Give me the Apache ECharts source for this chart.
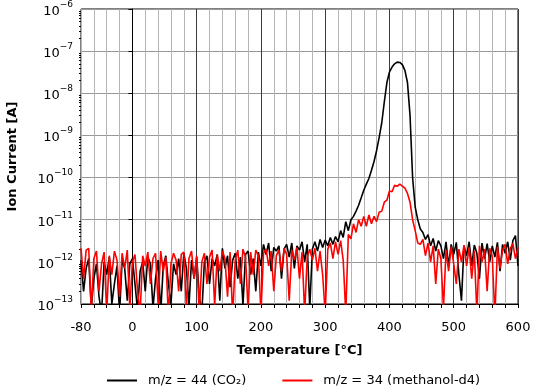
<!DOCTYPE html>
<html>
<head>
<meta charset="utf-8">
<script src="https://cdn.jsdelivr.net/npm/echarts@6/dist/echarts.min.js"></script>
<style>
  html, body { margin: 0; padding: 0; background: #fff; }
  #chart { width: 533px; height: 387px; }
</style>
</head>
<body>
<div id="chart"></div>
<script>
  // temperature grid, °C
  const temperatures = [
    -80, -76, -72, -68, -64, -60, -56, -52, -48, -44,
    -40, -36, -32, -28, -24, -20, -16, -12, -8, -4,
    0, 4, 8, 12, 16, 20, 24, 28, 32, 36,
    40, 44, 48, 52, 56, 60, 64, 68, 72, 76,
    80, 84, 88, 92, 96, 100, 104, 108, 112, 116,
    120, 124, 128, 132, 136, 140, 144, 148, 152, 156,
    160, 164, 168, 172, 176, 180, 184, 188, 192, 196,
    200, 204, 208, 212, 216, 220, 224, 228, 232, 236,
    240, 244, 248, 252, 256, 260, 264, 268, 272, 276,
    280, 284, 288, 292, 296, 300, 304, 308, 312, 316,
    320, 324, 328, 332, 336, 340, 344, 348, 352, 356,
    360, 364, 368, 372, 376, 380, 384, 388, 392, 396,
    400, 404, 408, 412, 416, 420, 424, 428, 432, 436,
    440, 444, 448, 452, 456, 460, 464, 468, 472, 476,
    480, 484, 488, 492, 496, 500, 504, 508, 512, 516,
    520, 524, 528, 532, 536, 540, 544, 548, 552, 556,
    560, 564, 568, 572, 576, 580, 584, 588, 592, 596,
    600,
  ];

  // m/z = 44 (CO2), ion current in A
  const co2Current = [
    1.1e-12, 2e-13, 7e-13, 1.2e-12, 8e-14, 4e-13, 9e-13, 1.5e-13, 6e-14, 1.0e-12,
    5e-13, 1.3e-12, 1.0e-13, 3e-13, 8e-13, 6e-14, 1.1e-12, 7e-13, 1.2e-13, 9e-13,
    1.2e-12, 3e-13, 7e-14, 6e-13, 1.0e-12, 2e-13, 1.3e-12, 9e-13, 8e-14, 4e-13,
    1.1e-12, 6e-14, 8e-13, 1.4e-12, 3e-13, 1.0e-13, 9e-13, 5e-13, 1.2e-12, 2e-13,
    1.6e-12, 7e-13, 9e-14, 1.1e-12, 4e-13, 1.3e-12, 1.5e-13, 6e-14, 1.0e-12, 1.4e-12,
    3e-13, 1.2e-12, 8e-13, 1.5e-12, 1.2e-13, 2.1e-12, 7e-13, 1.4e-12, 2.5e-13, 1.1e-12,
    1.6e-12, 4e-13, 1.3e-12, 9e-14, 1.5e-12, 1.8e-12, 5e-13, 1.2e-12, 2e-13, 1.7e-12,
    8e-13, 2.6e-12, 1.5e-12, 2.8e-12, 6e-13, 2.2e-12, 1.8e-12, 2.4e-12, 4e-13, 2.0e-12,
    2.6e-12, 1.3e-12, 2.8e-12, 7e-13, 2.4e-12, 1.9e-12, 3.0e-12, 1.0e-12, 2.6e-12, 8e-14,
    2.0e-12, 3.0e-12, 1.8e-12, 3.4e-12, 2.2e-12, 3.3e-12, 2.4e-12, 3.8e-12, 2.6e-12, 4.0e-12,
    3.0e-12, 5.5e-12, 3.8e-12, 9e-12, 5.5e-12, 1.0e-11, 1.2e-11, 1.6e-11, 2.2e-11, 3.3e-11,
    5e-11, 7e-11, 9.5e-11, 1.5e-10, 2.4e-10, 4.4e-10, 9e-10, 2e-9, 6.3e-9, 1.8e-8,
    3.2e-8, 4.2e-8, 5e-8, 5.5e-8, 5.4e-8, 4.8e-8, 3.5e-8, 1.8e-8, 3e-9, 1e-10,
    2e-11, 1e-11, 6e-12, 5e-12, 3.4e-12, 4.4e-12, 2.4e-12, 3.6e-12, 1.8e-12, 3.2e-12,
    2.4e-12, 1.2e-12, 3.0e-12, 8e-13, 2.6e-12, 1.5e-12, 2.9e-12, 5e-13, 1.2e-13, 2.4e-12,
    1.4e-12, 3.0e-12, 8e-13, 2.5e-12, 1.6e-12, 4e-13, 2.8e-12, 1.2e-12, 2.7e-12, 1.0e-12,
    2.4e-12, 1.3e-12, 2.9e-12, 6e-13, 2.6e-12, 1.6e-12, 3.0e-12, 1.1e-12, 3.2e-12, 4.2e-12,
    8e-13,
  ];

  // m/z = 34 (methanol-d4), ion current in A
  const methanolCurrent = [
    2.1e-12, 4e-13, 1.9e-12, 2.1e-12, 7e-14, 1.2e-12, 1.8e-12, 2e-13, 9e-13, 1.7e-12,
    6e-14, 1.4e-12, 5e-13, 1.8e-12, 1.1e-12, 1.5e-13, 1.6e-12, 7e-13, 1.9e-12, 8e-14,
    1.0e-12, 1.5e-12, 2e-13, 6e-14, 1.4e-12, 8e-13, 1.7e-12, 3e-13, 1.2e-12, 1.6e-12,
    1e-13, 1.8e-12, 6e-13, 1.3e-12, 5e-14, 9e-13, 1.6e-12, 1.1e-12, 2e-13, 1.5e-12,
    1.7e-12, 8e-14, 1.2e-12, 1.8e-12, 4e-13, 1.4e-12, 6e-14, 1.0e-12, 1.6e-12, 3e-13,
    1.3e-12, 1.9e-12, 9e-14, 1.5e-12, 6e-13, 1.8e-12, 1.2e-12, 1.5e-13, 1.7e-12, 5e-14,
    1.1e-12, 1.9e-12, 3e-13, 2.0e-12, 1.3e-12, 7e-14, 1.7e-12, 5e-13, 1.9e-12, 1.4e-12,
    6e-14, 1.6e-12, 2.0e-12, 8e-13, 1.8e-12, 2e-13, 1.4e-12, 1.9e-12, 6e-13, 2.1e-12,
    1.5e-12, 1.2e-13, 1.9e-12, 1.1e-12, 2.2e-12, 4e-13, 1.7e-12, 6e-14, 1.3e-12, 2.0e-12,
    1.1e-12, 2.1e-12, 6e-13, 1.8e-12, 5e-13, 6e-14, 2.0e-12, 2.8e-12, 1.2e-12, 3.0e-12,
    1.5e-12, 3.2e-12, 1.1e-12, 6e-14, 4.5e-12, 3.5e-12, 8e-12, 5e-12, 1.0e-11, 7e-12,
    1.2e-11, 7e-12, 1.3e-11, 8e-12, 1.2e-11, 9e-12, 1.5e-11, 1.6e-11, 2.6e-11, 2.9e-11,
    4.8e-11, 4.6e-11, 6.6e-11, 6.2e-11, 7e-11, 6.3e-11, 5.6e-11, 4.2e-11, 2.6e-11, 1e-11,
    5.5e-12, 2.8e-12, 2.6e-12, 3.4e-12, 1.4e-12, 2.8e-12, 1.0e-12, 2.4e-12, 3e-13, 2.0e-12,
    1.2e-12, 8e-14, 1.9e-12, 6e-13, 2.3e-12, 9e-13, 3e-13, 2.0e-12, 1.0e-12, 2.5e-12,
    8e-13, 2.2e-12, 4e-13, 1.8e-12, 6e-14, 2.4e-12, 1.0e-12, 2.0e-12, 2e-13, 2.1e-12,
    1.3e-12, 5e-14, 2.3e-12, 7e-13, 1.9e-12, 2.6e-12, 9e-13, 2.1e-12, 2.7e-12, 1.2e-12,
    2.2e-12,
  ];

  const seriesNames = ['m/z = 44 (CO₂)', 'm/z = 34 (methanol-d4)'];
  const xLabelValues = [-80, 0, 100, 200, 300, 400, 500, 600];

  // log minor ticks 2..9 x 10^n
  const yMinorTicks = [];
  for (let e = -13; e < -6; e++) {
    for (let k = 2; k <= 9; k++) yMinorTicks.push(k * Math.pow(10, e));
  }

  const font = 'DejaVu Sans';
  const chart = echarts.init(document.getElementById('chart'), null, { renderer: 'canvas' });

  const toPairs = (ys) => temperatures.map((t, i) => [t, ys[i]]);

  const option = {
    animation: false,
    textStyle: { fontFamily: font },
    grid: {
      left: 81,
      right: 15,
      top: 9,
      bottom: 83,
      containLabel: false,
      outerBoundsMode: 'none',
      show: true,
      borderColor: '#000',
      borderWidth: 1,
    },
    legend: {
      left: 102,
      top: 369,
      icon: 'rect',
      itemWidth: 30,
      itemHeight: 2,
      itemGap: 36,
      textStyle: {
        fontFamily: font,
        fontSize: 13,
        color: '#000',
        padding: [0, 0, 0, 6],
      },
      data: seriesNames,
    },
    xAxis: {
      type: 'value',
      min: -80,
      max: 600,
      interval: 20,
      name: 'Temperature [°C]',
      nameLocation: 'middle',
      nameGap: 40,
      nameTextStyle: {
        fontFamily: font,
        fontSize: 13,
        fontWeight: 'bold',
        color: '#000',
      },
      axisLine: { show: true, onZero: false, lineStyle: { color: '#000', width: 1 } },
      axisTick: { show: true, inside: false, length: 4, lineStyle: { color: '#000' } },
      axisLabel: {
        margin: 17,
        fontFamily: font,
        fontSize: 13,
        color: '#000',
        formatter: (v) => (xLabelValues.indexOf(v) >= 0 ? String(v) : ''),
      },
      splitLine: {
        show: true,
        lineStyle: {
          color: ['#b4b4b4', '#b4b4b4', '#b4b4b4', '#b4b4b4', '#3c3c3c'],
          width: 1,
        },
      },
    },
    yAxis: [
      {
        type: 'log',
        logBase: 10,
        min: 1e-13,
        max: 1e-6,
        splitNumber: 7,
        name: 'Ion Current [A]',
        nameLocation: 'middle',
        nameGap: 62,
        nameTextStyle: {
          fontFamily: font,
          fontSize: 13,
          fontWeight: 'bold',
          color: '#000',
        },
        axisLine: { show: true, lineStyle: { color: '#000', width: 1 } },
        axisTick: { show: true, inside: false, length: 4, lineStyle: { color: '#000' } },
        axisLabel: {
          margin: 8,
          formatter: (v) => {
            const e = Math.round(Math.log10(v));
            return '{b|10}{s|−' + (-e) + '}';
          },
          rich: {
            b: { fontFamily: font, fontSize: 13, color: '#000', lineHeight: 18, verticalAlign: 'bottom' },
            s: { fontFamily: font, fontSize: 9, color: '#000', verticalAlign: 'top' },
          },
        },
        splitLine: { show: true, lineStyle: { color: '#999', width: 1 } },
      },
      {
        type: 'log',
        logBase: 10,
        min: 1e-13,
        max: 1e-6,
        position: 'left',
        axisLine: { show: false },
        axisLabel: { show: false },
        splitLine: { show: false },
        axisTick: {
          show: true,
          length: 2,
          customValues: yMinorTicks,
          lineStyle: { color: '#000' },
        },
      },
    ],
    series: [
      {
        name: seriesNames[0],
        type: 'line',
        symbol: 'none',
        clip: true,
        z: 3,
        lineStyle: { color: '#000', width: 1.6 },
        itemStyle: { color: '#000' },
        data: toPairs(co2Current),
      },
      {
        name: seriesNames[1],
        type: 'line',
        symbol: 'none',
        clip: true,
        z: 4,
        lineStyle: { color: '#ff0000', width: 1.6 },
        itemStyle: { color: '#ff0000' },
        data: toPairs(methanolCurrent),
      },
    ],
  };

  chart.setOption(option);
</script>
</body>
</html>
